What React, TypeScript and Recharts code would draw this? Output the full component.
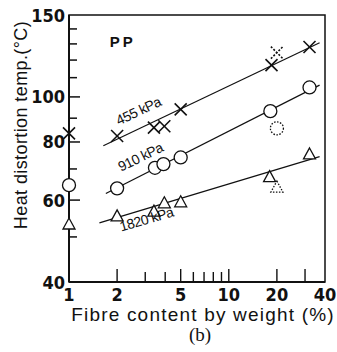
import React from 'react'
import { ComposedChart, XAxis, YAxis, Line, Scatter, ReferenceArea, Label } from 'recharts'

// fibre content (%) and heat distortion temperature (°C)
const fibre455 = [1, 2, 3.4, 3.95, 5, 18.5, 32]
const temp455 = [83.5, 82.4, 85.9, 86.5, 94, 117, 128]
const fibre910 = [1, 2, 3.45, 3.9, 5, 18.2, 32]
const temp910 = [64.6, 63.6, 70.4, 71.7, 74.1, 93.2, 104.8]
const fibre1820 = [1, 2, 3.4, 3.95, 5, 18, 32]
const temp1820 = [53.3, 55.5, 56.8, 59.2, 59.5, 67.4, 75.4]

// dotted (doubtful) points at 20 %
const outlierFibre = [20, 20, 20]
const outlierTemp = [124.5, 85.6, 64]

// fitted lines, two ends each
const fitFibre455 = [1.64, 37]
const fitTemp455 = [78.5, 130.8]
const fitFibre910 = [1.7, 37]
const fitTemp910 = [62, 106]
const fitFibre1820 = [1.55, 37]
const fitTemp1820 = [53.6, 74.4]

const xTicks = [1, 2, 3, 4, 5, 6, 7, 8, 9, 10, 20, 30, 40]
const xLabels = [1, 2, 5, 10, 20, 40]
const yTicks = [40, 50, 60, 70, 80, 90, 100, 110, 120, 130, 140, 150]
const yLabels = [40, 60, 80, 100, 150]
const yDomain = [40, 150]

const lineNames = ['455 kPa', '910 kPa', '1820 kPa']
const lineNameFibre = [2.74, 2.82, 3.07]
const lineNameTemp = [92.8, 73.9, 54.3]
const lineNameAngle = [-25, -26, -16]

const pts = (xs: number[], ys: number[]) => xs.map((x, i) => ({ x, y: ys[i] }))

const ink = '#111'
const sans = '"Liberation Sans", Arial, sans-serif'
const narrow = '"Liberation Sans Narrow", "DejaVu Sans Condensed", "Liberation Sans", sans-serif'
const plotHeight = 267

const XMark = (p: any) => {
  const { cx, cy } = p
  const dash = p.dashed ? '2 1.6' : undefined
  return (
    <g stroke={ink} strokeWidth={1.6} strokeDasharray={dash}>
      <line x1={cx - 6} y1={cy - 6} x2={cx + 6} y2={cy + 6} />
      <line x1={cx - 6} y1={cy + 6} x2={cx + 6} y2={cy - 6} />
    </g>
  )
}

const OMark = (p: any) => (
  <circle cx={p.cx} cy={p.cy} r={6.5} fill="#fff" stroke={ink} strokeWidth={1.3} strokeDasharray={p.dashed ? '1.5 1.5' : undefined} />
)

const TMark = (p: any) => {
  const { cx, cy } = p
  return (
    <path
      d={`M${cx},${cy - 6}L${cx + 6},${cy + 5}L${cx - 6},${cy + 5}Z`}
      fill="#fff"
      stroke={ink}
      strokeWidth={1.3}
      strokeDasharray={p.dashed ? '1.5 1.5' : undefined}
    />
  )
}

const YTick = (p: any) => {
  const v = p.payload.value
  if (!yLabels.includes(v)) return <g />
  return (
    <text x={Number(p.x) - 4} y={Number(p.y)} dy={6.5} textAnchor="end" fontFamily={narrow} fontSize={18} fontWeight="bold" fill={ink}>
      {v}
    </text>
  )
}

// x ticks point up into the plot; the corner tick (x = 1) also carries the inward y ticks
const XTick = (p: any) => {
  const v = p.payload.value
  const lab = xLabels.includes(v)
  const len = lab || v === 30 ? 13 : 10
  const x = Number(p.x)
  const y = Number(p.y)
  const span = Math.log(yDomain[1] / yDomain[0])
  return (
    <g>
      {v !== 1 && v !== 40 && <line x1={x} y1={y} x2={x} y2={y - len} stroke={ink} strokeWidth={1.4} />}
      {v === 1 &&
        yTicks.slice(1, -1).map((t) => {
          const ty = y - (plotHeight * Math.log(t / yDomain[0])) / span
          return <rect key={t} x={x} y={ty - 0.75} width={yLabels.includes(t) ? 11 : 8} height={1.5} fill={ink} />
        })}
      {lab && (
        <text x={x} y={y + 19} textAnchor="middle" fontFamily={narrow} fontSize={18} fontWeight="bold" fill={ink}>
          {v}
        </text>
      )}
    </g>
  )
}

const NameTag = (p: any) => {
  const { cx, cy, payload } = p
  return (
    <text
      x={cx}
      y={cy}
      transform={`rotate(${payload.angle} ${cx} ${cy})`}
      textAnchor="middle"
      dominantBaseline="middle"
      fontFamily={sans}
      fontSize={14}
      letterSpacing={-0.5}
      fill={ink}
    >
      {payload.text}
    </text>
  )
}

export default function App() {
  const nameData = lineNames.map((text, i) => ({ x: lineNameFibre[i], y: lineNameTemp[i], text, angle: lineNameAngle[i] }))
  const ppTag = [{ x: 1.8, y: 128, text: 'PP' }]

  return (
    <div style={{ position: 'absolute', left: 0, top: 0, background: '#fff' }}>
      <ComposedChart width={337} height={352} margin={{ top: 15, right: 12, bottom: 0, left: 0 }}>
        <XAxis
          dataKey="x"
          type="number"
          scale="log"
          domain={[1, 40]}
          ticks={xTicks}
          interval={0}
          height={70}
          tickSize={0}
          tickMargin={0}
          tickLine={false}
          tick={<XTick />}
          axisLine={{ stroke: ink, strokeWidth: 1.8 }}
        >
          <Label
            content={(p: any) => {
              const vb = p.viewBox
              return (
                <g>
                  <text x={vb.x + 134} y={vb.y + 39} textAnchor="middle" fontFamily={sans} fontSize={19} letterSpacing={1.2} fill={ink}>
                    Fibre content by weight (%)
                  </text>
                  <text x={vb.x + 131} y={vb.y + 59} textAnchor="middle" fontFamily='"Liberation Serif", serif' fontSize={19} fill={ink}>
                    (b)
                  </text>
                </g>
              )
            }}
          />
        </XAxis>
        <YAxis
          dataKey="y"
          type="number"
          scale="log"
          domain={yDomain}
          ticks={yTicks}
          interval={0}
          width={69}
          tickSize={0}
          tickMargin={0}
          tickLine={false}
          tick={<YTick />}
          axisLine={{ stroke: ink, strokeWidth: 2 }}
        >
          <Label
            content={(p: any) => {
              const vb = p.viewBox
              const cy = vb.y + 110
              return (
                <text x={27} y={cy} transform={`rotate(-90 27 ${cy})`} textAnchor="middle" fontFamily={sans} fontSize={18} letterSpacing={0.4} fill={ink}>
                  Heat distortion temp.(°C)
                </text>
              )
            }}
          />
        </YAxis>
        <ReferenceArea x1={1} x2={40} y1={40} y2={150} fill="none" stroke={ink} strokeWidth={1.5} ifOverflow="visible" />

        <Line data={pts(fitFibre455, fitTemp455)} dataKey="y" stroke={ink} strokeWidth={1.2} dot={false} isAnimationActive={false} />
        <Line data={pts(fitFibre910, fitTemp910)} dataKey="y" stroke={ink} strokeWidth={1.2} dot={false} isAnimationActive={false} />
        <Line data={pts(fitFibre1820, fitTemp1820)} dataKey="y" stroke={ink} strokeWidth={1.2} dot={false} isAnimationActive={false} />

        <Scatter data={pts(fibre455, temp455)} shape={<XMark />} isAnimationActive={false} />
        <Scatter data={pts(fibre910, temp910)} shape={<OMark />} isAnimationActive={false} />
        <Scatter data={pts(fibre1820, temp1820)} shape={<TMark />} isAnimationActive={false} />
        <Scatter data={pts(outlierFibre.slice(0, 1), outlierTemp.slice(0, 1))} shape={<XMark dashed />} isAnimationActive={false} />
        <Scatter data={pts(outlierFibre.slice(1, 2), outlierTemp.slice(1, 2))} shape={<OMark dashed />} isAnimationActive={false} />
        <Scatter data={pts(outlierFibre.slice(2, 3), outlierTemp.slice(2, 3))} shape={<TMark dashed />} isAnimationActive={false} />

        <Scatter data={nameData} shape={<NameTag />} isAnimationActive={false} />
        <Scatter
          data={ppTag}
          isAnimationActive={false}
          shape={(p: any) => (
            <text x={p.cx} y={p.cy} fontFamily={sans} fontSize={15} fontWeight="bold" letterSpacing={3} fill={ink}>
              {p.payload.text}
            </text>
          )}
        />
      </ComposedChart>
    </div>
  )
}
